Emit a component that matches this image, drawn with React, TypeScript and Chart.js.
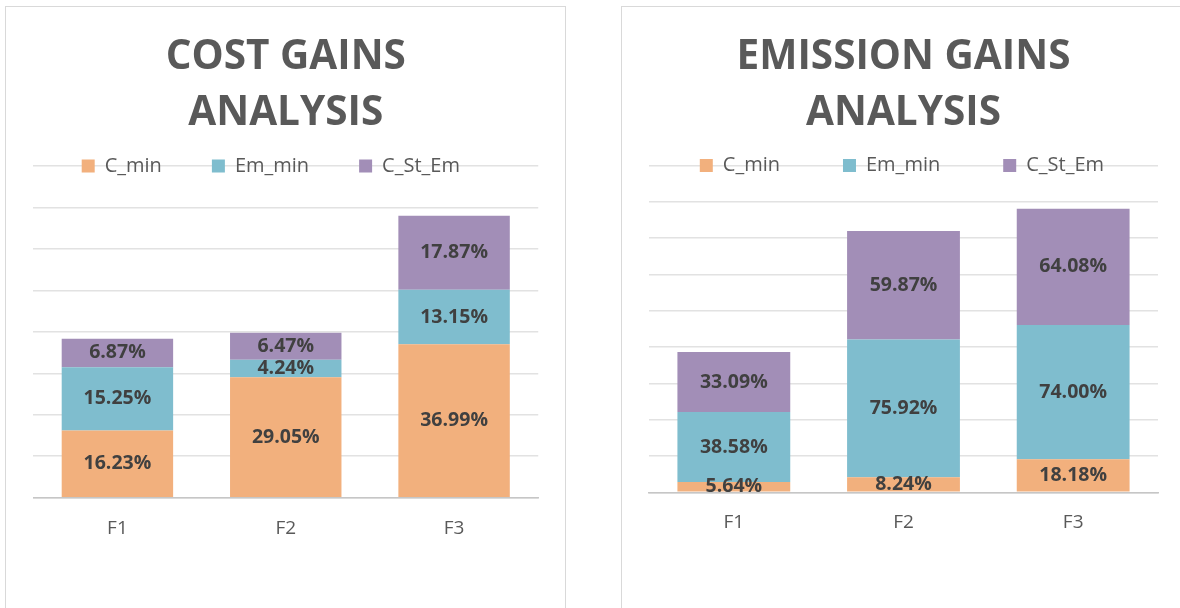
import React, { useEffect, useRef } from "react";
import { Chart, registerables } from "chart.js";

Chart.register(...registerables);

const categories = ["F1", "F2", "F3"];
const seriesNames = ["C_min", "Em_min", "C_St_Em"];

const costCmin = [16.23, 29.05, 36.99];
const costEmmin = [15.25, 4.24, 13.15];
const costCStEm = [6.87, 6.47, 17.87];

const emisCmin = [5.64, 8.24, 18.18];
const emisEmmin = [38.58, 75.92, 74.0];
const emisCStEm = [33.09, 59.87, 64.08];

const costTitle = ["COST GAINS", "ANALYSIS"];
const emisTitle = ["EMISSION GAINS", "ANALYSIS"];

const costAxisMax = 80;
const costStep = 10;
const emisAxisMax = 180;
const emisStep = 20;

const seriesColors = ["#F2B07D", "#7FBDCE", "#A28EB7"];

const FONT = "'Open Sans', 'Noto Sans', sans-serif";

type PanelProps = {
  title: string[];
  series: number[][];
  max: number;
  step: number;
  width: number;
  height: number;
  padLeft: number;
  padRight: number;
  chartTop: number;
  chartBottom: number;
  legendPad: number;
  legendStart: number;
  barPct: number;
};

function ChartPanel(p: PanelProps) {
  const ref = useRef<HTMLCanvasElement | null>(null);

  useEffect(() => {
    if (!ref.current) return;
    const titleSize = 40.5;
    const titleLine = 56.5;
    const titleTop = 22;
    const legendFont = 20;
    const itemHalf = legendFont / 2;
    const titleBottom = p.chartTop - (titleTop + 2 * titleLine) - p.legendPad - itemHalf;

    const legendTweak = {
      id: "legendTweak",
      beforeLayout(chart: any) {
        const lg = chart.legend;
        if (lg && !lg.__patched) {
          const orig = lg.fit;
          lg.fit = function () {
            this.maxWidth = 5000;
            orig.call(this);
            this.height = p.legendPad + itemHalf;
          };
          lg.__patched = true;
        }
      },
      afterLayout(chart: any) {
        const lg = chart.legend;
        if (!lg) return;
        const w = lg.right - lg.left;
        lg.left = p.legendStart - p.legendPad;
        lg.right = lg.left + w + 200;
        lg.width = lg.right - lg.left;
        lg.bottom = lg.top + p.legendPad + legendFont + 12;
        lg.height = lg.bottom - lg.top;
      },
    };

    const dataLabels = {
      id: "dataLabels",
      afterDatasetsDraw(chart: any) {
        const ctx = chart.ctx;
        ctx.save();
        ctx.font = `bold 19.5px ${FONT}`;
        ctx.fillStyle = "#404040";
        ctx.textAlign = "center";
        ctx.textBaseline = "middle";
        chart.data.datasets.forEach((ds: any, di: number) => {
          const meta = chart.getDatasetMeta(di);
          meta.data.forEach((el: any, i: number) => {
            const { x, y, base } = el.getProps(["x", "y", "base"], true);
            const v = ds.data[i];
            ctx.fillText(`${v.toFixed(2)}%`, x, (y + base) / 2);
          });
        });
        ctx.restore();
      },
    };

    const chart = new Chart(ref.current, {
      type: "bar",
      data: {
        labels: categories,
        datasets: seriesNames.map((name, i) => ({
          label: name,
          data: p.series[i],
          backgroundColor: seriesColors[i],
          borderWidth: 0,
          barPercentage: p.barPct,
          categoryPercentage: 1,
          stack: "s",
        })),
      },
      options: {
        responsive: false,
        animation: false,
        layout: { padding: { left: p.padLeft, right: p.padRight, top: 0, bottom: 0 } },
        plugins: {
          title: {
            display: true,
            text: p.title,
            color: "#595959",
            font: { family: FONT, size: titleSize, weight: "bold", lineHeight: titleLine / titleSize },
            padding: { top: titleTop, bottom: titleBottom },
          },
          legend: {
            display: true,
            position: "top",
            align: "start",
            labels: {
              boxWidth: 13,
              boxHeight: 13,
              padding: p.legendPad,
              color: "#595959",
              font: { family: FONT, size: legendFont },
            },
          },
          tooltip: { enabled: false },
        },
        scales: {
          x: {
            stacked: true,
            grid: { display: false },
            border: { display: true, color: "#c6c6c6", width: 1.5 },
            ticks: { color: "#595959", font: { family: FONT, size: 19 }, padding: 11 },
            afterFit: (s: any) => {
              s.height = p.height - p.chartBottom;
            },
          },
          y: {
            stacked: true,
            min: 0,
            max: p.max,
            ticks: { display: false, stepSize: p.step },
            grid: { color: "#e2e2e2", lineWidth: 1.5, drawTicks: false },
            border: { display: false },
            afterFit: (s: any) => {
              s.width = 0;
            },
          },
        },
      },
      plugins: [legendTweak, dataLabels],
    } as any);
    return () => chart.destroy();
  }, []);

  return (
    <canvas
      ref={ref}
      width={p.width}
      height={p.height}
      style={{ display: "block", width: p.width, height: p.height }}
    />
  );
}

export default function App() {
  return (
    <div
      style={{
        position: "absolute",
        left: 0,
        top: 0,
        width: 1180,
        height: 608,
        overflow: "hidden",
        background: "#ffffff",
      }}
    >
      <div
        style={{
          position: "absolute",
          left: 5,
          top: 6,
          width: 559,
          height: 620,
          border: "1px solid #d9d9d9",
        }}
      >
        <ChartPanel
          title={costTitle}
          series={[costCmin, costEmmin, costCStEm]}
          max={costAxisMax}
          step={costStep}
          width={559}
          height={601}
          padLeft={27.25}
          padRight={26.75}
          chartTop={159}
          chartBottom={490.7}
          legendPad={50}
          legendStart={75.7}
          barPct={0.662}
        />
      </div>
      <div
        style={{
          position: "absolute",
          left: 621,
          top: 6,
          width: 560,
          height: 620,
          border: "1px solid #d9d9d9",
        }}
      >
        <ChartPanel
          title={emisTitle}
          series={[emisCmin, emisEmmin, emisCStEm]}
          max={emisAxisMax}
          step={emisStep}
          width={560}
          height={601}
          padLeft={27}
          padRight={24}
          chartTop={158.6}
          chartBottom={485.3}
          legendPad={63}
          legendStart={77.8}
          barPct={0.665}
        />
      </div>
    </div>
  );
}
